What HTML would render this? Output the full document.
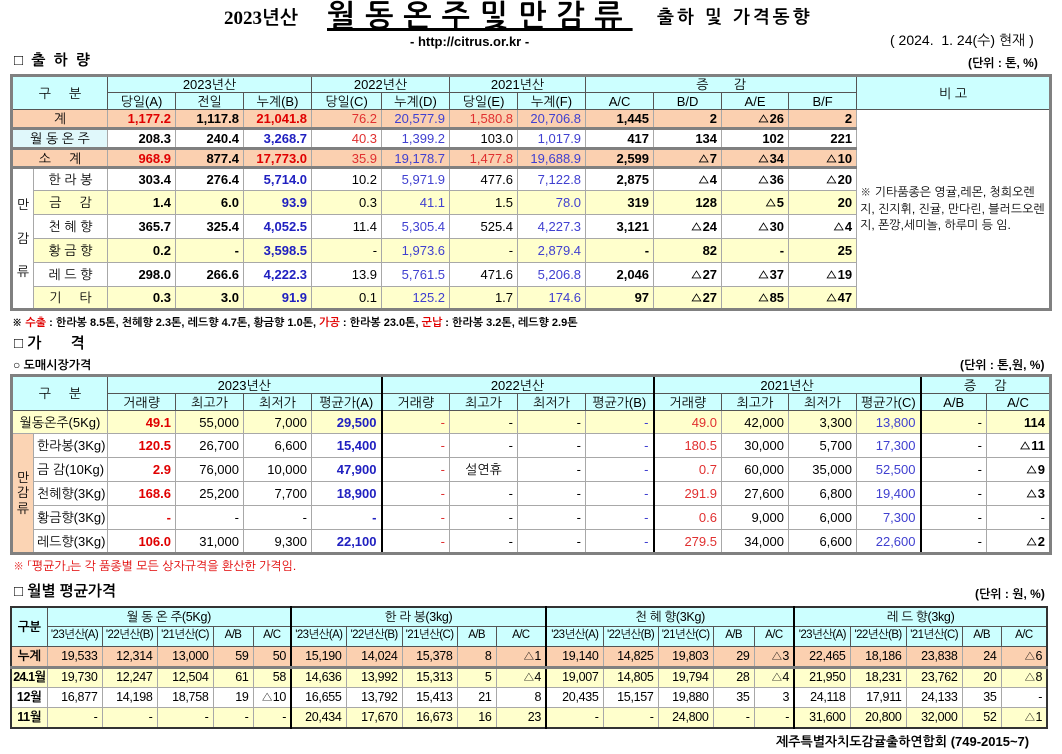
<!DOCTYPE html>
<html><head><meta charset="utf-8">
<style>
*{margin:0;padding:0;box-sizing:border-box}
body{width:1062px;height:754px;background:#fff;position:relative;overflow:hidden;font-family:"Liberation Sans","NanumGothic","Noto Sans CJK KR",sans-serif;color:#000}
.a{position:absolute;white-space:nowrap}
table{position:absolute;border-collapse:collapse;table-layout:fixed;font-size:13px}
td{border:1px solid #a8a8a8;text-align:right;padding:0 4px;overflow:hidden;white-space:nowrap;line-height:1}
.c{text-align:center}
.h{background:#ccffff;text-align:center;border-color:#555}
.s{background:#fbd0b0}
.y{background:#ffffcc}
.p{background:#fbd4b4}
.b{font-weight:bold}
.R{color:#e00000;font-weight:bold}
.B{color:#2020c0;font-weight:bold}
.r{color:#e03030}
.u{color:#4040d0}
.bt td{border-top:3px solid #808080}
.vl{border-left:2px solid #000}
.lb{text-align:left;padding-left:3px}
.k{padding:0 !important;text-align:center}
</style></head><body>

<div class="a" style="left:224px;top:8px;font-size:19px;font-weight:bold;font-family:'Liberation Serif','NanumGothic',serif">2023년산</div>
<div class="a" style="left:327px;top:2px;font-size:30px;font-weight:bold;letter-spacing:10px;text-decoration:underline;font-family:'NanumGothic','Noto Sans CJK KR',sans-serif">월동온주및만감류</div>
<div class="a" style="left:657px;top:8px;font-size:18px;font-weight:bold;letter-spacing:3px;font-family:'NanumGothic',sans-serif">출하 및 가격동향</div>
<div class="a" style="left:410px;top:34px;font-size:13px;font-weight:bold">- http://citrus.or.kr -</div>
<div class="a" style="left:890px;top:32px;font-size:14px">( 2024.&nbsp; 1. 24(수) 현재 )</div>
<div class="a" style="left:14px;top:52px;font-size:15px;font-weight:bold;letter-spacing:2px">□ 출 하 량</div>
<div class="a" style="left:968px;top:56px;font-size:12px;font-weight:bold">(단위 : 톤, %)</div>

<table style="left:10px;top:74px;width:1039px;border:3px solid #808080">
<colgroup><col style="width:22px"><col style="width:74px"><col style="width:68px"><col style="width:68px"><col style="width:68px"><col style="width:70px"><col style="width:68px"><col style="width:68px"><col style="width:68px"><col style="width:68px"><col style="width:68px"><col style="width:67px"><col style="width:68px"><col style="width:194px"></colgroup>
<tr style="height:17px"><td class="h" colspan="2" rowspan="2">구 &nbsp; &nbsp; 분</td><td class="h" colspan="3">2023년산</td><td class="h" colspan="2">2022년산</td><td class="h" colspan="2">2021년산</td><td class="h" colspan="4">증 &nbsp; &nbsp; &nbsp; 감</td><td class="h" rowspan="2">비 고</td></tr>
<tr style="height:17px"><td class="h">당일(A)</td><td class="h">전일</td><td class="h">누계(B)</td><td class="h">당일(C)</td><td class="h">누계(D)</td><td class="h">당일(E)</td><td class="h">누계(F)</td><td class="h">A/C</td><td class="h">B/D</td><td class="h">A/E</td><td class="h">B/F</td></tr>
<tr class="s" style="height:19px"><td class="c" colspan="2">계</td><td class="R">1,177.2</td><td class="b">1,117.8</td><td class="R">21,041.8</td><td class="r">76.2</td><td class="u">20,577.9</td><td class="r">1,580.8</td><td class="u">20,706.8</td><td class="b">1,445</td><td class="b">2</td><td class="b">△26</td><td class="b">2</td><td rowspan="9" style="background:#fff;text-align:left;font-size:12px;line-height:1.4;padding:0 3px;white-space:normal">※ 기타품종은 영귤,레몬, 청희오렌지, 진지휘, 진귤, 만다린, 블러드오렌지, 폰깡,세미놀, 하루미 등 임.</td></tr>
<tr class="bt" style="height:20px"><td class="c" colspan="2" style="background:#e0f8fb">월 동 온 주</td><td class="b">208.3</td><td class="b">240.4</td><td class="B">3,268.7</td><td class="r">40.3</td><td class="u">1,399.2</td><td>103.0</td><td class="u">1,017.9</td><td class="b">417</td><td class="b">134</td><td class="b">102</td><td class="b">221</td></tr>
<tr class="s bt" style="height:19px"><td class="c" colspan="2">소 &nbsp; &nbsp; 계</td><td class="R">968.9</td><td class="b">877.4</td><td class="R">17,773.0</td><td class="r">35.9</td><td class="u">19,178.7</td><td class="r">1,477.8</td><td class="u">19,688.9</td><td class="b">2,599</td><td class="b">△7</td><td class="b">△34</td><td class="b">△10</td></tr>
<tr class="bt" style="height:23px"><td class="c" rowspan="6" style="line-height:2.6;white-space:normal;padding:0">만<br>감<br>류</td><td class="c">한 라 봉</td><td class="b">303.4</td><td class="b">276.4</td><td class="B">5,714.0</td><td>10.2</td><td class="u">5,971.9</td><td>477.6</td><td class="u">7,122.8</td><td class="b">2,875</td><td class="b">△4</td><td class="b">△36</td><td class="b">△20</td></tr>
<tr class="y" style="height:24px"><td class="c">금 &nbsp; &nbsp; 감</td><td class="b">1.4</td><td class="b">6.0</td><td class="B">93.9</td><td>0.3</td><td class="u">41.1</td><td>1.5</td><td class="u">78.0</td><td class="b">319</td><td class="b">128</td><td class="b">△5</td><td class="b">20</td></tr>
<tr style="height:24px"><td class="c">천 혜 향</td><td class="b">365.7</td><td class="b">325.4</td><td class="B">4,052.5</td><td>11.4</td><td class="u">5,305.4</td><td>525.4</td><td class="u">4,227.3</td><td class="b">3,121</td><td class="b">△24</td><td class="b">△30</td><td class="b">△4</td></tr>
<tr class="y" style="height:24px"><td class="c">황 금 향</td><td class="b">0.2</td><td class="b">-</td><td class="B">3,598.5</td><td>-</td><td class="u">1,973.6</td><td>-</td><td class="u">2,879.4</td><td class="b">-</td><td class="b">82</td><td class="b">-</td><td class="b">25</td></tr>
<tr style="height:24px"><td class="c">레 드 향</td><td class="b">298.0</td><td class="b">266.6</td><td class="B">4,222.3</td><td>13.9</td><td class="u">5,761.5</td><td>471.6</td><td class="u">5,206.8</td><td class="b">2,046</td><td class="b">△27</td><td class="b">△37</td><td class="b">△19</td></tr>
<tr class="y" style="height:23px"><td class="c">기 &nbsp; &nbsp; 타</td><td class="b">0.3</td><td class="b">3.0</td><td class="B">91.9</td><td>0.1</td><td class="u">125.2</td><td>1.7</td><td class="u">174.6</td><td class="b">97</td><td class="b">△27</td><td class="b">△85</td><td class="b">△47</td></tr>
</table>

<div class="a" style="left:12px;top:317px;font-size:11px;font-weight:bold">※ <span style="color:#e00000">수출</span> : 한라봉 8.5톤, 천혜향 2.3톤, 레드향 4.7톤, 황금향 1.0톤, <span style="color:#e00000">가공</span> : 한라봉 23.0톤, <span style="color:#e00000">군납</span> : 한라봉 3.2톤, 레드향 2.9톤</div>
<div class="a" style="left:14px;top:335px;font-size:15px;font-weight:bold">□ 가 &nbsp; &nbsp; &nbsp; 격</div>
<div class="a" style="left:13px;top:358px;font-size:12px;font-weight:bold">○ 도매시장가격</div>
<div class="a" style="left:960px;top:358px;font-size:12px;font-weight:bold">(단위 : 톤,원, %)</div>

<table style="left:10px;top:374px;width:1039px;border:3px solid #808080">
<colgroup><col style="width:22px"><col style="width:74px"><col style="width:68px"><col style="width:68px"><col style="width:68px"><col style="width:70px"><col style="width:68px"><col style="width:68px"><col style="width:68px"><col style="width:68px"><col style="width:68px"><col style="width:67px"><col style="width:68px"><col style="width:64px"><col style="width:66px"><col style="width:64px"></colgroup>
<tr style="height:18px"><td class="h" colspan="2" rowspan="2">구 &nbsp; &nbsp; 분</td><td class="h" colspan="4">2023년산</td><td class="h vl" colspan="4">2022년산</td><td class="h vl" colspan="4">2021년산</td><td class="h vl" colspan="2">증 &nbsp; &nbsp; 감</td></tr>
<tr style="height:17px"><td class="h">거래량</td><td class="h">최고가</td><td class="h">최저가</td><td class="h">평균가(A)</td><td class="h vl">거래량</td><td class="h">최고가</td><td class="h">최저가</td><td class="h">평균가(B)</td><td class="h vl">거래량</td><td class="h">최고가</td><td class="h">최저가</td><td class="h">평균가(C)</td><td class="h vl">A/B</td><td class="h" style="border-left:1px dotted #555">A/C</td></tr>
<tr class="y" style="height:23px"><td class="c" colspan="2">월동온주(5Kg)</td><td class="R">49.1</td><td>55,000</td><td>7,000</td><td class="B">29,500</td><td class="r vl">-</td><td>-</td><td>-</td><td class="u">-</td><td class="r vl">49.0</td><td>42,000</td><td>3,300</td><td class="u">13,800</td><td class="vl">-</td><td class="b" style="border-left:1px dotted #555">114</td></tr>
<tr style="height:24px"><td class="c p" rowspan="5" style="white-space:normal;padding:0;line-height:1.2">만<br>감<br>류</td><td class="lb">한라봉(3Kg)</td><td class="R">120.5</td><td>26,700</td><td>6,600</td><td class="B">15,400</td><td class="r vl">-</td><td>-</td><td>-</td><td class="u">-</td><td class="r vl">180.5</td><td>30,000</td><td>5,700</td><td class="u">17,300</td><td class="vl">-</td><td class="b" style="border-left:1px dotted #555">△11</td></tr>
<tr style="height:24px"><td class="lb">금 감(10Kg)</td><td class="R">2.9</td><td>76,000</td><td>10,000</td><td class="B">47,900</td><td class="r vl">-</td><td class="c">설연휴</td><td>-</td><td class="u">-</td><td class="r vl">0.7</td><td>60,000</td><td>35,000</td><td class="u">52,500</td><td class="vl">-</td><td class="b" style="border-left:1px dotted #555">△9</td></tr>
<tr style="height:24px"><td class="lb">천혜향(3Kg)</td><td class="R">168.6</td><td>25,200</td><td>7,700</td><td class="B">18,900</td><td class="r vl">-</td><td>-</td><td>-</td><td class="u">-</td><td class="r vl">291.9</td><td>27,600</td><td>6,800</td><td class="u">19,400</td><td class="vl">-</td><td class="b" style="border-left:1px dotted #555">△3</td></tr>
<tr style="height:24px"><td class="lb">황금향(3Kg)</td><td class="R">-</td><td>-</td><td>-</td><td class="B">-</td><td class="r vl">-</td><td>-</td><td>-</td><td class="u">-</td><td class="r vl">0.6</td><td>9,000</td><td>6,000</td><td class="u">7,300</td><td class="vl">-</td><td style="border-left:1px dotted #555">-</td></tr>
<tr style="height:24px"><td class="lb">레드향(3Kg)</td><td class="R">106.0</td><td>31,000</td><td>9,300</td><td class="B">22,100</td><td class="r vl">-</td><td>-</td><td>-</td><td class="u">-</td><td class="r vl">279.5</td><td>34,000</td><td>6,600</td><td class="u">22,600</td><td class="vl">-</td><td class="b" style="border-left:1px dotted #555">△2</td></tr>
</table>

<div class="a" style="left:13px;top:559px;font-size:12px;color:#e00000">※ 「평균가」는 각 품종별 모든 상자규격을 환산한 가격임.</div>
<div class="a" style="left:14px;top:583px;font-size:15px;font-weight:bold">□ 월별 평균가격</div>
<div class="a" style="left:975px;top:587px;font-size:12px;font-weight:bold">(단위 : 원, %)</div>

<table style="left:10px;top:606px;width:1036px;border:2px solid #333;font-size:12.5px;letter-spacing:-0.3px">
<colgroup><col style="width:36px"><col style="width:55px"><col style="width:55px"><col style="width:56px"><col style="width:40px"><col style="width:38px"><col style="width:55px"><col style="width:56px"><col style="width:55px"><col style="width:39px"><col style="width:50px"><col style="width:57px"><col style="width:55px"><col style="width:55px"><col style="width:41px"><col style="width:40px"><col style="width:56px"><col style="width:56px"><col style="width:56px"><col style="width:39px"><col style="width:46px"></colgroup>
<tr style="height:19px"><td class="h b k" rowspan="2">구분</td><td class="h" colspan="5">월 동 온 주(5Kg)</td><td class="h vl" colspan="5">한 라 봉(3kg)</td><td class="h vl" colspan="5">천 혜 향(3Kg)</td><td class="h vl" colspan="5">레 드 향(3kg)</td></tr>
<tr style="height:20px;font-size:11.5px;letter-spacing:-0.6px"><td class="h" style="padding:0">'23년산(A)</td><td class="h" style="padding:0">'22년산(B)</td><td class="h" style="padding:0">'21년산(C)</td><td class="h">A/B</td><td class="h">A/C</td><td class="h vl" style="padding:0">'23년산(A)</td><td class="h" style="padding:0">'22년산(B)</td><td class="h" style="padding:0">'21년산(C)</td><td class="h">A/B</td><td class="h">A/C</td><td class="h vl" style="padding:0">'23년산(A)</td><td class="h" style="padding:0">'22년산(B)</td><td class="h" style="padding:0">'21년산(C)</td><td class="h">A/B</td><td class="h">A/C</td><td class="h vl" style="padding:0">'23년산(A)</td><td class="h" style="padding:0">'22년산(B)</td><td class="h" style="padding:0">'21년산(C)</td><td class="h">A/B</td><td class="h">A/C</td></tr>
<tr class="s" style="height:21px"><td class="c b k">누계</td><td>19,533</td><td>12,314</td><td>13,000</td><td>59</td><td>50</td><td class="vl">15,190</td><td>14,024</td><td>15,378</td><td>8</td><td>△1</td><td class="vl">19,140</td><td>14,825</td><td>19,803</td><td>29</td><td>△3</td><td class="vl">22,465</td><td>18,186</td><td>23,838</td><td>24</td><td>△6</td></tr>
<tr class="y bt" style="height:20px"><td class="c b k" style="letter-spacing:-0.8px">24.1월</td><td>19,730</td><td>12,247</td><td>12,504</td><td>61</td><td>58</td><td class="vl">14,636</td><td>13,992</td><td>15,313</td><td>5</td><td>△4</td><td class="vl">19,007</td><td>14,805</td><td>19,794</td><td>28</td><td>△4</td><td class="vl">21,950</td><td>18,231</td><td>23,762</td><td>20</td><td>△8</td></tr>
<tr style="height:20px"><td class="c b k">12월</td><td>16,877</td><td>14,198</td><td>18,758</td><td>19</td><td>△10</td><td class="vl">16,655</td><td>13,792</td><td>15,413</td><td>21</td><td>8</td><td class="vl">20,435</td><td>15,157</td><td>19,880</td><td>35</td><td>3</td><td class="vl">24,118</td><td>17,911</td><td>24,133</td><td>35</td><td>-</td></tr>
<tr class="y" style="height:21px"><td class="c b k">11월</td><td>-</td><td>-</td><td>-</td><td>-</td><td>-</td><td class="vl">20,434</td><td>17,670</td><td>16,673</td><td>16</td><td>23</td><td class="vl">-</td><td>-</td><td>24,800</td><td>-</td><td>-</td><td class="vl">31,600</td><td>20,800</td><td>32,000</td><td>52</td><td>△1</td></tr>
</table>

<div class="a" style="left:776px;top:734px;font-size:13px;font-weight:bold">제주특별자치도감귤출하연합회 (749-2015~7)</div>
</body></html>
